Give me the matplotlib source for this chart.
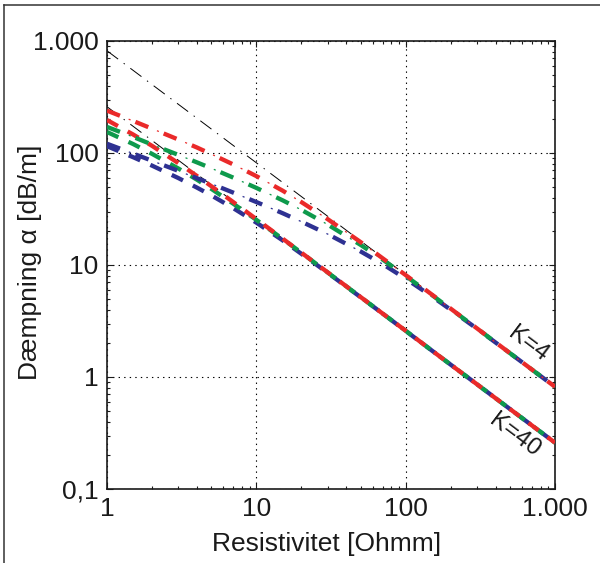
import matplotlib
matplotlib.use("Agg")
import matplotlib.pyplot as plt
from matplotlib.lines import Line2D
from matplotlib.ticker import FixedLocator, FixedFormatter, LogLocator, NullFormatter

plt.rcParams['font.family'] = ['Liberation Sans', 'DejaVu Sans']
plt.rcParams['lines.scale_dashes'] = False

# ---- data ----
rho = [1, 1.5, 2, 3, 4, 5, 7, 10, 15, 20, 30, 50, 70, 100, 150, 200, 300, 500, 1000]

k4_50MHz = [121, 98.8, 85.3, 69.3, 59.6, 53.1, 44.3, 36.5, 29.0, 24.4, 18.9, 13.2, 10.2, 7.55, 5.24, 3.99, 2.70, 1.63, 0.817]
k4_100MHz = [171, 139, 119, 96.3, 82.5, 73.0, 60.3, 48.8, 37.8, 31.1, 23.0, 15.1, 11.2, 7.99, 5.39, 4.06, 2.72, 1.63, 0.817]
k4_200MHz = [239, 193, 165, 132, 112, 97.7, 79.1, 62.2, 46.1, 36.5, 25.7, 16.0, 11.5, 8.13, 5.44, 4.08, 2.72, 1.63, 0.818]

k40_50MHz = [115, 91.6, 77.2, 59.8, 49.1, 41.8, 32.2, 23.9, 16.6, 12.6, 8.53, 5.15, 3.69, 2.58, 1.72, 1.29, 0.862, 0.517, 0.259]
k40_100MHz = [154, 120, 98.3, 72.8, 57.8, 47.8, 35.3, 25.3, 17.1, 12.9, 8.59, 5.17, 3.69, 2.59, 1.72, 1.29, 0.862, 0.517, 0.259]
k40_200MHz = [197, 146, 116, 81.3, 62.4, 50.5, 36.5, 25.7, 17.2, 12.9, 8.61, 5.17, 3.69, 2.59, 1.72, 1.29, 0.862, 0.517, 0.259]

asym_rho = [1, 1000]
asym_k4 = [818, 0.818]
asym_k40 = [259, 0.259]

x_ticks = [1, 10, 100, 1000]
x_labels = ['1', '10', '100', '1.000']
y_ticks = [0.1, 1, 10, 100, 1000]
y_labels = ['0,1', '1', '10', '100', '1.000']

x_title = 'Resistivitet [Ohmm]'
y_title = 'Dæmpning α [dB/m]'
label_k4 = 'K=4'
label_k40 = 'K=40'

c_blue = '#2E3192'
c_green = '#0E9A4C'
c_red = '#EA2A2A'

# ---- figure ----
W, H = 600, 563
fig = plt.figure(figsize=(W / 100, H / 100), dpi=100)
ax = fig.add_axes([107 / W, 1 - 489 / H, 448 / W, 448 / H])
ax.set_xscale('log')
ax.set_yscale('log')
ax.set_xlim(1, 1000)
ax.set_ylim(0.1, 1000)

# black asymptotes (thin dash-dot)
ax.plot(asym_rho, asym_k4, color='black', lw=0.7, linestyle=(0, (10, 5, 1, 5)), zorder=2)
ax.plot(asym_rho, asym_k40, color='black', lw=0.7, linestyle=(0, (10, 5, 1, 5)), zorder=2)

# K=40 : thick dashed
for ys, c in [(k40_50MHz, c_blue), (k40_100MHz, c_green), (k40_200MHz, c_red)]:
    ax.plot(rho, ys, color=c, lw=3.1, linestyle=(0, (9, 8)), zorder=3)

# K=4 : thick dash + thin dot
for ys, c in [(k4_50MHz, c_blue), (k4_100MHz, c_green), (k4_200MHz, c_red)]:
    ax.plot(rho, ys, color=c, lw=3.1, linestyle=(0, (10, 12)), zorder=3)
    ax.plot(rho, ys, color=c, lw=0.9, linestyle=(5.25, (1.5, 20.5)), zorder=3)

# axes styling
ax.xaxis.set_major_locator(FixedLocator(x_ticks))
ax.xaxis.set_major_formatter(FixedFormatter(x_labels))
ax.yaxis.set_major_locator(FixedLocator(y_ticks))
ax.yaxis.set_major_formatter(FixedFormatter(y_labels))
ax.xaxis.set_minor_locator(LogLocator(base=10, subs=range(2, 10)))
ax.yaxis.set_minor_locator(LogLocator(base=10, subs=range(2, 10)))
ax.xaxis.set_minor_formatter(NullFormatter())
ax.yaxis.set_minor_formatter(NullFormatter())

ax.grid(True, which='major', color='black', linestyle=(0, (1, 3)), lw=0.8)
ax.tick_params(which='both', direction='in', top=True, right=True, width=0.8, labelsize=19, colors='#1a1a1a')
ax.tick_params(which='major', length=4, pad=6)
ax.tick_params(which='minor', length=2.5)
for s in ax.spines.values():
    s.set_linewidth(1.2)
    s.set_color('#1a1a1a')

# titles
fig.text(327 / W, 1 - 544 / H, x_title, ha='center', va='center', fontsize=19, color='#1a1a1a')
fig.text(30 / W, 1 - 262 / H, y_title, ha='center', va='center', rotation=90, fontsize=19, color='#1a1a1a')

# curve labels
fig.text(528 / W, 1 - 344 / H, label_k4, ha='center', va='center', rotation=-37,
         rotation_mode='anchor', fontsize=17.5, color='#1a1a1a')
fig.text(515 / W, 1 - 435 / H, label_k40, ha='center', va='center', rotation=-37,
         rotation_mode='anchor', fontsize=17.5, color='#1a1a1a')

# outer frame (top and left)
fig.add_artist(Line2D([4 / W, 1.0], [1 - 5 / H, 1 - 5 / H], color='#333333', lw=1.1, transform=fig.transFigure))
fig.add_artist(Line2D([4 / W, 4 / W], [0.0, 1 - 5 / H], color='#333333', lw=1.1, transform=fig.transFigure))

fig.savefig('out.png', dpi=100)
